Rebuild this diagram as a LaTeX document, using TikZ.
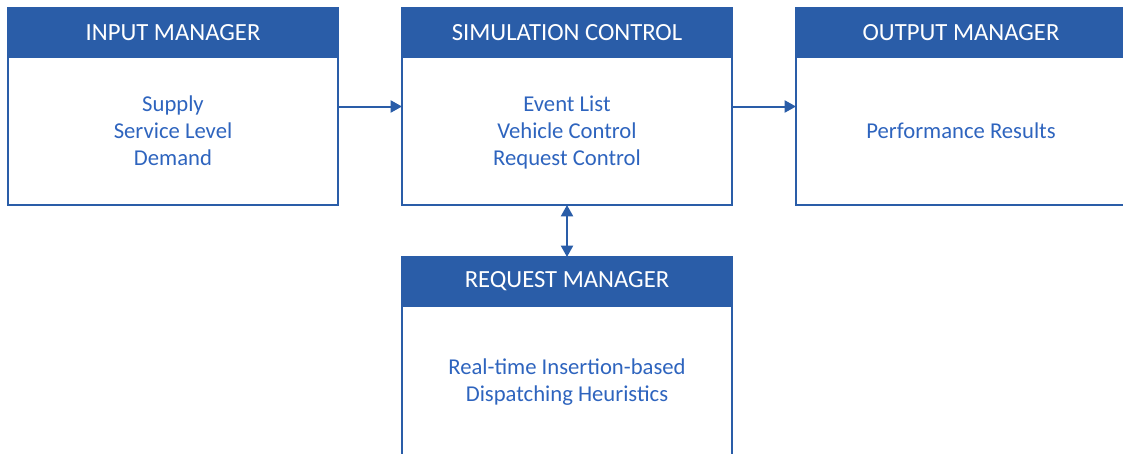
\documentclass[tikz,border=0pt]{standalone}
\usepackage{fontspec}
\setmainfont{Carlito}
\usepackage{xcolor}
\usepackage{tikz}
\usetikzlibrary{positioning, fit, arrows.meta}
\definecolor{headblue}{RGB}{42,93,168}
\definecolor{textblue}{RGB}{46,100,190}
\tikzset{
>={Triangle[length=8.5pt,width=9pt]}, % filled arrow heads
node distance=48pt, % gap between two modules
every node/.style={font=\fontsize{17}{20.25}\selectfont},
header/.style={draw=headblue, fill=headblue, text=white, font=\fontsize{18.5}{22}\selectfont, line width=1pt, minimum width=247.5pt, minimum height=36.75pt, inner sep=0pt, outer sep=0pt}, % title bar of a module
body/.style={draw=headblue, line width=1pt, text=textblue, text depth=0pt, minimum width=247.5pt, minimum height=111pt, align=center, inner sep=0pt, outer sep=0pt}, % contents of a module
link/.style={draw=headblue, line width=1.5pt}, % arrows between modules
}

\begin{document}
\begin{tikzpicture}
        \useasboundingbox (0,0) rectangle (842.25pt,-339.75pt);
        \node[header, anchor=north west] (inhead) at (6pt,-6pt) {INPUT MANAGER};
        \node[body, below=0pt of inhead] (inbody) {Supply\\Service Level\\Demand};
        \node[header, right=of inhead] (simhead) {SIMULATION CONTROL};
        \node[body, below=0pt of simhead] (simbody) {Event List\\Vehicle Control\\Request Control};
        \node[header, right=of simhead] (outhead) {OUTPUT MANAGER};
        \node[body, below=0pt of outhead] (outbody) {Performance Results};
        \node[header, below=39pt of simbody] (reqhead) {REQUEST MANAGER};
        \node[body, below=0pt of reqhead, minimum height=114pt, text depth=3.5pt] (reqbody) {Real-time Insertion-based\\Dispatching Heuristics};

        % whole modules, for the arrows
        \node[fit=(inhead)(inbody), inner sep=0pt, outer sep=0pt] (input) {};
        \node[fit=(simhead)(simbody), inner sep=0pt, outer sep=0pt] (sim) {};
        \node[fit=(outhead)(outbody), inner sep=0pt, outer sep=0pt] (output) {};

        \draw[link, ->] (input) -- (sim);
        \draw[link, ->] (sim) -- (output);
        \draw[link, <->] (simbody) -- (reqhead);
    \end{tikzpicture}
\end{document}
